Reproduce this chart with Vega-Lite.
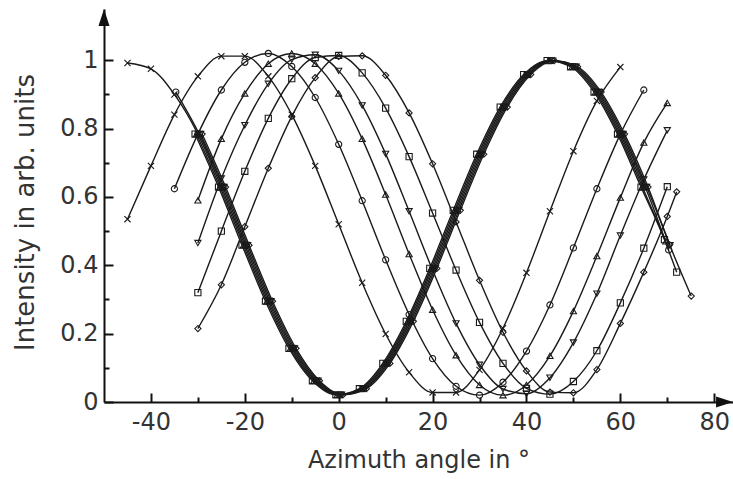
{
  "$schema": "https://vega.github.io/schema/vega-lite/v6.json",
  "width": 629,
  "height": 393,
  "autosize": "none",
  "padding": {"left": 104, "top": 9, "right": 0, "bottom": 77},
  "background": "white",
  "config": {
    "view": {"stroke": null},
    "axis": {
      "domainColor": "#111", "domainWidth": 2, "tickColor": "#111", "tickWidth": 2,
      "labelFont": "DejaVu Sans", "labelFontSize": 24, "labelColor": "#333",
      "titleFont": "DejaVu Sans", "titleFontSize": 24, "titleFontWeight": "normal", "titleColor": "#333",
      "grid": false, "labelOverlap": false, "labelFlush": false
    }
  },
  "datasets": {
    "curves": [
      {"s":"x","c":"x1","x":-45,"y":0.535},{"s":"x","c":"x1","x":-40,"y":0.691},{"s":"x","c":"x1","x":-35,"y":0.841},{"s":"x","c":"x1","x":-30,"y":0.953},{"s":"x","c":"x1","x":-25,"y":1.012},{"s":"x","c":"x1","x":-20,"y":1.012},{"s":"x","c":"x1","x":-15,"y":0.953},{"s":"x","c":"x1","x":-10,"y":0.841},{"s":"x","c":"x1","x":-5,"y":0.691},{"s":"x","c":"x1","x":0,"y":0.520},{"s":"x","c":"x1","x":5,"y":0.349},{"s":"x","c":"x1","x":10,"y":0.199},{"s":"x","c":"x1","x":15,"y":0.087},{"s":"x","c":"x1","x":20,"y":0.028},{"s":"x","c":"x1","x":25,"y":0.028},{"s":"x","c":"x1","x":30,"y":0.094},{"s":"x","c":"x1","x":35,"y":0.216},{"s":"x","c":"x1","x":40,"y":0.378},{"s":"x","c":"x1","x":45,"y":0.558},{"s":"x","c":"x1","x":50,"y":0.734},{"s":"x","c":"x1","x":55,"y":0.881},{"s":"x","c":"x1","x":60,"y":0.980},
      {"s":"o","c":"o1","x":-35,"y":0.624},{"s":"o","c":"o1","x":-30,"y":0.784},{"s":"o","c":"o1","x":-25,"y":0.913},{"s":"o","c":"o1","x":-20,"y":0.994},{"s":"o","c":"o1","x":-15,"y":1.020},{"s":"o","c":"o1","x":-10,"y":0.982},{"s":"o","c":"o1","x":-5,"y":0.891},{"s":"o","c":"o1","x":0,"y":0.754},{"s":"o","c":"o1","x":5,"y":0.589},{"s":"o","c":"o1","x":10,"y":0.416},{"s":"o","c":"o1","x":15,"y":0.256},{"s":"o","c":"o1","x":20,"y":0.127},{"s":"o","c":"o1","x":25,"y":0.046},{"s":"o","c":"o1","x":30,"y":0.020},{"s":"o","c":"o1","x":35,"y":0.058},{"s":"o","c":"o1","x":40,"y":0.149},{"s":"o","c":"o1","x":45,"y":0.284},{"s":"o","c":"o1","x":50,"y":0.451},{"s":"o","c":"o1","x":55,"y":0.624},{"s":"o","c":"o1","x":60,"y":0.784},{"s":"o","c":"o1","x":65,"y":0.913},
      {"s":"t","c":"t1","x":-30,"y":0.590},{"s":"t","c":"t1","x":-25,"y":0.770},{"s":"t","c":"t1","x":-20,"y":0.903},{"s":"t","c":"t1","x":-15,"y":0.990},{"s":"t","c":"t1","x":-10,"y":1.020},{"s":"t","c":"t1","x":-5,"y":0.990},{"s":"t","c":"t1","x":0,"y":0.903},{"s":"t","c":"t1","x":5,"y":0.770},{"s":"t","c":"t1","x":10,"y":0.607},{"s":"t","c":"t1","x":15,"y":0.433},{"s":"t","c":"t1","x":20,"y":0.270},{"s":"t","c":"t1","x":25,"y":0.137},{"s":"t","c":"t1","x":30,"y":0.050},{"s":"t","c":"t1","x":35,"y":0.020},{"s":"t","c":"t1","x":40,"y":0.050},{"s":"t","c":"t1","x":45,"y":0.135},{"s":"t","c":"t1","x":50,"y":0.266},{"s":"t","c":"t1","x":55,"y":0.427},{"s":"t","c":"t1","x":60,"y":0.598},{"s":"t","c":"t1","x":65,"y":0.759},{"s":"t","c":"t1","x":70,"y":0.875},
      {"s":"v","c":"v1","x":-30,"y":0.465},{"s":"v","c":"v1","x":-25,"y":0.654},{"s":"v","c":"v1","x":-20,"y":0.810},{"s":"v","c":"v1","x":-15,"y":0.931},{"s":"v","c":"v1","x":-10,"y":1.002},{"s":"v","c":"v1","x":-5,"y":1.016},{"s":"v","c":"v1","x":0,"y":0.969},{"s":"v","c":"v1","x":5,"y":0.868},{"s":"v","c":"v1","x":10,"y":0.726},{"s":"v","c":"v1","x":15,"y":0.558},{"s":"v","c":"v1","x":20,"y":0.386},{"s":"v","c":"v1","x":25,"y":0.230},{"s":"v","c":"v1","x":30,"y":0.109},{"s":"v","c":"v1","x":35,"y":0.038},{"s":"v","c":"v1","x":40,"y":0.024},{"s":"v","c":"v1","x":45,"y":0.071},{"s":"v","c":"v1","x":50,"y":0.174},{"s":"v","c":"v1","x":55,"y":0.317},{"s":"v","c":"v1","x":60,"y":0.487},{"s":"v","c":"v1","x":65,"y":0.651},{"s":"v","c":"v1","x":70,"y":0.795},
      {"s":"s","c":"s1","x":-30,"y":0.320},{"s":"s","c":"s1","x":-25,"y":0.500},{"s":"s","c":"s1","x":-20,"y":0.675},{"s":"s","c":"s1","x":-15,"y":0.830},{"s":"s","c":"s1","x":-10,"y":0.946},{"s":"s","c":"s1","x":-5,"y":1.008},{"s":"s","c":"s1","x":0,"y":1.014},{"s":"s","c":"s1","x":5,"y":0.963},{"s":"s","c":"s1","x":10,"y":0.860},{"s":"s","c":"s1","x":15,"y":0.718},{"s":"s","c":"s1","x":20,"y":0.553},{"s":"s","c":"s1","x":25,"y":0.386},{"s":"s","c":"s1","x":30,"y":0.233},{"s":"s","c":"s1","x":35,"y":0.113},{"s":"s","c":"s1","x":40,"y":0.040},{"s":"s","c":"s1","x":45,"y":0.023},{"s":"s","c":"s1","x":50,"y":0.060},{"s":"s","c":"s1","x":55,"y":0.150},{"s":"s","c":"s1","x":60,"y":0.290},{"s":"s","c":"s1","x":65,"y":0.450},{"s":"s","c":"s1","x":70,"y":0.630},
      {"s":"d","c":"d1","x":-30,"y":0.215},{"s":"d","c":"d1","x":-25,"y":0.343},{"s":"d","c":"d1","x":-20,"y":0.513},{"s":"d","c":"d1","x":-15,"y":0.684},{"s":"d","c":"d1","x":-10,"y":0.836},{"s":"d","c":"d1","x":-5,"y":0.949},{"s":"d","c":"d1","x":0,"y":1.011},{"s":"d","c":"d1","x":5,"y":1.013},{"s":"d","c":"d1","x":10,"y":0.956},{"s":"d","c":"d1","x":15,"y":0.846},{"s":"d","c":"d1","x":20,"y":0.697},{"s":"d","c":"d1","x":25,"y":0.527},{"s":"d","c":"d1","x":30,"y":0.356},{"s":"d","c":"d1","x":35,"y":0.204},{"s":"d","c":"d1","x":40,"y":0.091},{"s":"d","c":"d1","x":45,"y":0.029},{"s":"d","c":"d1","x":50,"y":0.027},{"s":"d","c":"d1","x":55,"y":0.095},{"s":"d","c":"d1","x":60,"y":0.230},{"s":"d","c":"d1","x":65,"y":0.380},{"s":"d","c":"d1","x":70,"y":0.543},{"s":"d","c":"d1","x":72,"y":0.615},
      {"s":"x","c":"x2","x":-45,"y":0.992},{"s":"x","c":"x2","x":-40,"y":0.975},{"s":"x","c":"x2","x":-35,"y":0.900},{"s":"x","c":"x2","x":-30,"y":0.784},{"s":"x","c":"x2","x":-25,"y":0.629},{"s":"x","c":"x2","x":-20,"y":0.459},{"s":"x","c":"x2","x":-15,"y":0.295},{"s":"x","c":"x2","x":-10,"y":0.157},{"s":"x","c":"x2","x":-5,"y":0.062},{"s":"x","c":"x2","x":0,"y":0.021},{"s":"x","c":"x2","x":5,"y":0.039},{"s":"x","c":"x2","x":10,"y":0.113},{"s":"x","c":"x2","x":15,"y":0.236},{"s":"x","c":"x2","x":20,"y":0.391},{"s":"x","c":"x2","x":25,"y":0.561},{"s":"x","c":"x2","x":30,"y":0.725},{"s":"x","c":"x2","x":35,"y":0.863},{"s":"x","c":"x2","x":40,"y":0.958},{"s":"x","c":"x2","x":45,"y":0.999},{"s":"x","c":"x2","x":50,"y":0.981},{"s":"x","c":"x2","x":55,"y":0.907},{"s":"x","c":"x2","x":60,"y":0.784},{"s":"x","c":"x2","x":65,"y":0.629},
      {"s":"o","c":"o2","x":-34.7,"y":0.907},{"s":"o","c":"o2","x":-29.7,"y":0.784},{"s":"o","c":"o2","x":-24.7,"y":0.629},{"s":"o","c":"o2","x":-19.7,"y":0.459},{"s":"o","c":"o2","x":-14.7,"y":0.295},{"s":"o","c":"o2","x":-9.7,"y":0.157},{"s":"o","c":"o2","x":-4.7,"y":0.062},{"s":"o","c":"o2","x":0.3,"y":0.021},{"s":"o","c":"o2","x":5.3,"y":0.039},{"s":"o","c":"o2","x":10.3,"y":0.113},{"s":"o","c":"o2","x":15.3,"y":0.236},{"s":"o","c":"o2","x":20.3,"y":0.391},{"s":"o","c":"o2","x":25.3,"y":0.561},{"s":"o","c":"o2","x":30.3,"y":0.725},{"s":"o","c":"o2","x":35.3,"y":0.863},{"s":"o","c":"o2","x":40.3,"y":0.958},{"s":"o","c":"o2","x":45.3,"y":0.999},{"s":"o","c":"o2","x":50.3,"y":0.981},{"s":"o","c":"o2","x":55.3,"y":0.907},{"s":"o","c":"o2","x":60.3,"y":0.784},{"s":"o","c":"o2","x":65.3,"y":0.629},{"s":"o","c":"o2","x":70.3,"y":0.445},
      {"s":"t","c":"t2","x":-30.3,"y":0.784},{"s":"t","c":"t2","x":-25.3,"y":0.629},{"s":"t","c":"t2","x":-20.3,"y":0.459},{"s":"t","c":"t2","x":-15.3,"y":0.295},{"s":"t","c":"t2","x":-10.3,"y":0.157},{"s":"t","c":"t2","x":-5.3,"y":0.062},{"s":"t","c":"t2","x":-0.3,"y":0.021},{"s":"t","c":"t2","x":4.7,"y":0.039},{"s":"t","c":"t2","x":9.7,"y":0.113},{"s":"t","c":"t2","x":14.7,"y":0.236},{"s":"t","c":"t2","x":19.7,"y":0.391},{"s":"t","c":"t2","x":24.7,"y":0.561},{"s":"t","c":"t2","x":29.7,"y":0.725},{"s":"t","c":"t2","x":34.7,"y":0.863},{"s":"t","c":"t2","x":39.7,"y":0.958},{"s":"t","c":"t2","x":44.7,"y":0.999},{"s":"t","c":"t2","x":49.7,"y":0.981},{"s":"t","c":"t2","x":54.7,"y":0.907},{"s":"t","c":"t2","x":59.7,"y":0.784},{"s":"t","c":"t2","x":64.7,"y":0.629},{"s":"t","c":"t2","x":69.7,"y":0.470},
      {"s":"v","c":"v2","x":-29.4,"y":0.784},{"s":"v","c":"v2","x":-24.4,"y":0.629},{"s":"v","c":"v2","x":-19.4,"y":0.459},{"s":"v","c":"v2","x":-14.4,"y":0.295},{"s":"v","c":"v2","x":-9.4,"y":0.157},{"s":"v","c":"v2","x":-4.4,"y":0.062},{"s":"v","c":"v2","x":0.6,"y":0.021},{"s":"v","c":"v2","x":5.6,"y":0.039},{"s":"v","c":"v2","x":10.6,"y":0.113},{"s":"v","c":"v2","x":15.6,"y":0.236},{"s":"v","c":"v2","x":20.6,"y":0.391},{"s":"v","c":"v2","x":25.6,"y":0.561},{"s":"v","c":"v2","x":30.6,"y":0.725},{"s":"v","c":"v2","x":35.6,"y":0.863},{"s":"v","c":"v2","x":40.6,"y":0.958},{"s":"v","c":"v2","x":45.6,"y":0.999},{"s":"v","c":"v2","x":50.6,"y":0.981},{"s":"v","c":"v2","x":55.6,"y":0.907},{"s":"v","c":"v2","x":60.6,"y":0.784},{"s":"v","c":"v2","x":65.6,"y":0.629},{"s":"v","c":"v2","x":70.6,"y":0.459},
      {"s":"s","c":"s2","x":-30.6,"y":0.784},{"s":"s","c":"s2","x":-25.6,"y":0.629},{"s":"s","c":"s2","x":-20.6,"y":0.459},{"s":"s","c":"s2","x":-15.6,"y":0.295},{"s":"s","c":"s2","x":-10.6,"y":0.157},{"s":"s","c":"s2","x":-5.6,"y":0.062},{"s":"s","c":"s2","x":-0.6,"y":0.021},{"s":"s","c":"s2","x":4.4,"y":0.039},{"s":"s","c":"s2","x":9.4,"y":0.113},{"s":"s","c":"s2","x":14.4,"y":0.236},{"s":"s","c":"s2","x":19.4,"y":0.391},{"s":"s","c":"s2","x":24.4,"y":0.561},{"s":"s","c":"s2","x":29.4,"y":0.725},{"s":"s","c":"s2","x":34.4,"y":0.863},{"s":"s","c":"s2","x":39.4,"y":0.958},{"s":"s","c":"s2","x":44.4,"y":0.999},{"s":"s","c":"s2","x":49.4,"y":0.981},{"s":"s","c":"s2","x":54.4,"y":0.907},{"s":"s","c":"s2","x":59.4,"y":0.784},{"s":"s","c":"s2","x":64.4,"y":0.629},{"s":"s","c":"s2","x":69.4,"y":0.475},{"s":"s","c":"s2","x":72,"y":0.380},
      {"s":"d","c":"d2","x":-29.1,"y":0.784},{"s":"d","c":"d2","x":-24.1,"y":0.629},{"s":"d","c":"d2","x":-19.1,"y":0.459},{"s":"d","c":"d2","x":-14.1,"y":0.295},{"s":"d","c":"d2","x":-9.1,"y":0.157},{"s":"d","c":"d2","x":-4.1,"y":0.062},{"s":"d","c":"d2","x":0.9,"y":0.021},{"s":"d","c":"d2","x":5.9,"y":0.039},{"s":"d","c":"d2","x":10.9,"y":0.113},{"s":"d","c":"d2","x":15.9,"y":0.236},{"s":"d","c":"d2","x":20.9,"y":0.391},{"s":"d","c":"d2","x":25.9,"y":0.561},{"s":"d","c":"d2","x":30.9,"y":0.725},{"s":"d","c":"d2","x":35.9,"y":0.863},{"s":"d","c":"d2","x":40.9,"y":0.958},{"s":"d","c":"d2","x":45.9,"y":0.999},{"s":"d","c":"d2","x":50.9,"y":0.981},{"s":"d","c":"d2","x":55.9,"y":0.907},{"s":"d","c":"d2","x":60.9,"y":0.784},{"s":"d","c":"d2","x":65.9,"y":0.629},{"s":"d","c":"d2","x":70.5,"y":0.460},{"s":"d","c":"d2","x":75.1,"y":0.310}
    ]
  },
  "encoding": {
    "x": {
      "field": "x", "type": "quantitative",
      "scale": {"domain": [-50, 84], "nice": false, "zero": false},
      "axis": {
        "title": "Azimuth angle in °",
        "values": [-40, -30, -20, -10, 0, 10, 20, 30, 40, 50, 60, 70, 80],
        "labelExpr": "datum.value % 20 === 0 ? '' + datum.value : ''",
        "tickSize": {"condition": {"test": "datum.value % 20 === 0", "value": -9}, "value": -5},
        "labelPadding": 17,
        "titleY": 58,
        "titleBaseline": "middle"
      }
    },
    "y": {
      "field": "y", "type": "quantitative",
      "scale": {"domain": [0, 1.15], "nice": false},
      "axis": {
        "title": "Intensity in arb. units",
        "values": [0, 0.1, 0.2, 0.3, 0.4, 0.5, 0.6, 0.7, 0.8, 0.9, 1],
        "labelExpr": "round(datum.value * 10) % 2 === 0 ? '' + datum.value : ''",
        "tickSize": {"condition": {"test": "round(datum.value * 10) % 2 === 0", "value": -9}, "value": -5},
        "labelPadding": 15,
        "titleFontSize": 26,
        "titleX": -79,
        "titleY": 203,
        "titleBaseline": "middle",
        "titleAngle": -90
      }
    }
  },
  "layer": [
    {
      "data": {"name": "curves"},
      "mark": {"type": "line", "interpolate": "monotone", "strokeWidth": 1.4, "color": "#1a1a1a"},
      "encoding": {"detail": {"field": "c", "type": "nominal"}}
    },
    {
      "data": {"name": "curves"},
      "mark": {"type": "point", "filled": false, "size": 38, "strokeWidth": 1.1, "color": "#1a1a1a", "opacity": 1},
      "encoding": {
        "shape": {
          "field": "s", "type": "nominal", "legend": null,
          "scale": {"domain": ["x", "o", "t", "v", "s", "d"], "range": ["M-1,-1L1,1M-1,1L1,-1", "circle", "triangle-up", "triangle-down", "square", "diamond"]}
        }
      }
    },
    {
      "data": {"values": [{"x": -50, "y": 1.125}]},
      "mark": {"type": "point", "shape": "M0,-1L-0.65,1L0.65,1Z", "filled": true, "size": 289, "color": "#111", "opacity": 1}
    },
    {
      "data": {"values": [{"x": 82.2, "y": 0}]},
      "mark": {"type": "point", "shape": "M1,0L-1,-0.65L-1,0.65Z", "filled": true, "size": 289, "color": "#111", "opacity": 1}
    }
  ]
}
